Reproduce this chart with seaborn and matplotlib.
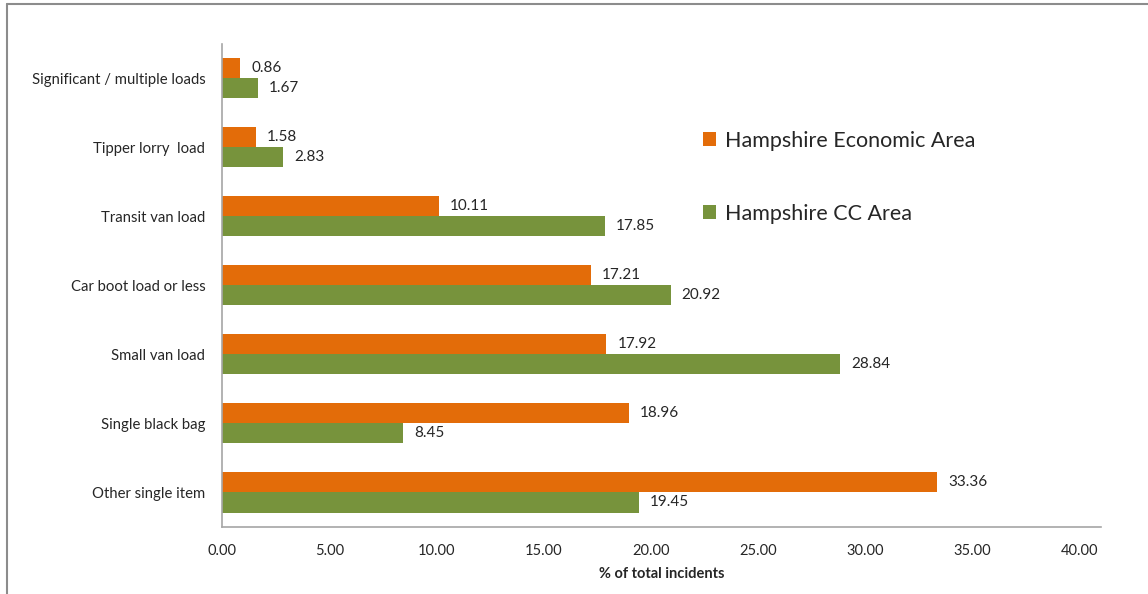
import pandas as pd
import seaborn as sns
import matplotlib.pyplot as plt
from matplotlib.lines import Line2D

categories = ['Significant / multiple loads', 'Tipper lorry  load', 'Transit van load',
              'Car boot load or less', 'Small van load', 'Single black bag', 'Other single item']
economic_area = [0.86, 1.58, 10.11, 17.21, 17.92, 18.96, 33.36]
cc_area = [1.67, 2.83, 17.85, 20.92, 28.84, 8.45, 19.45]
series = ['Hampshire Economic Area', 'Hampshire CC Area']
colors = ['#E36C09', '#77933C']
x_ticks = [0, 5, 10, 15, 20, 25, 30, 35, 40]

df = pd.DataFrame({
    'category': categories * 2,
    'value': economic_area + cc_area,
    'series': [series[0]] * len(categories) + [series[1]] * len(categories),
})

sns.set_style('white')
plt.rcParams['font.family'] = ['Lato', 'DejaVu Sans']

fig = plt.figure(figsize=(11.48, 5.94), dpi=100)
ax = fig.add_axes([0.1934, 0.1128, 0.7657, 0.8132])

sns.barplot(data=df, x='value', y='category', hue='series', order=categories,
            hue_order=series, palette=colors, orient='h', width=0.58, ax=ax,
            saturation=1, edgecolor='none', errorbar=None)

for cont in ax.containers:
    ax.bar_label(cont, fmt='%.2f', padding=8, fontsize=11, color='#262626')

ax.set_xlim(0, 41)
ax.set_ylim(6.5, -0.5)
ax.set_xticks(x_ticks)
ax.set_xticklabels([f'{t:.2f}' for t in x_ticks], fontsize=10.5, color='#262626')
ax.tick_params(axis='y', labelsize=10.7, labelcolor='#262626', length=0, pad=12)
ax.set_yticks([i - 0.5 for i in range(len(categories) + 1)], minor=True)
ax.tick_params(axis='y', which='minor', length=7, color='#A6A6A6', direction='out')
ax.tick_params(axis='x', length=5, color='#A6A6A6', direction='out', pad=7)

for side in ['top', 'right']:
    ax.spines[side].set_visible(False)
for side in ['left', 'bottom']:
    ax.spines[side].set_color('#A6A6A6')
    ax.spines[side].set_linewidth(1.2)

ax.set_xlabel('% of total incidents', fontsize=10.5, fontweight='bold', color='#262626', labelpad=7)
ax.set_ylabel('')

handles, labels = ax.get_legend_handles_labels()
ax.legend(handles, labels, loc='center left', bbox_to_anchor=(0.547, 0.724), frameon=False,
          fontsize=15.5, handlelength=0.6, handleheight=0.6, handletextpad=0.45,
          labelspacing=2.45, borderaxespad=0, borderpad=0)

# outer chart frame
fig.add_artist(Line2D([6.5 / 1148, 6.5 / 1148], [0, 1 - 3.5 / 594], color='#8C8C8C', lw=1.5))
fig.add_artist(Line2D([6.5 / 1148, 1], [1 - 3.5 / 594, 1 - 3.5 / 594], color='#8C8C8C', lw=1.5))

fig.savefig('out.png', dpi=100)
